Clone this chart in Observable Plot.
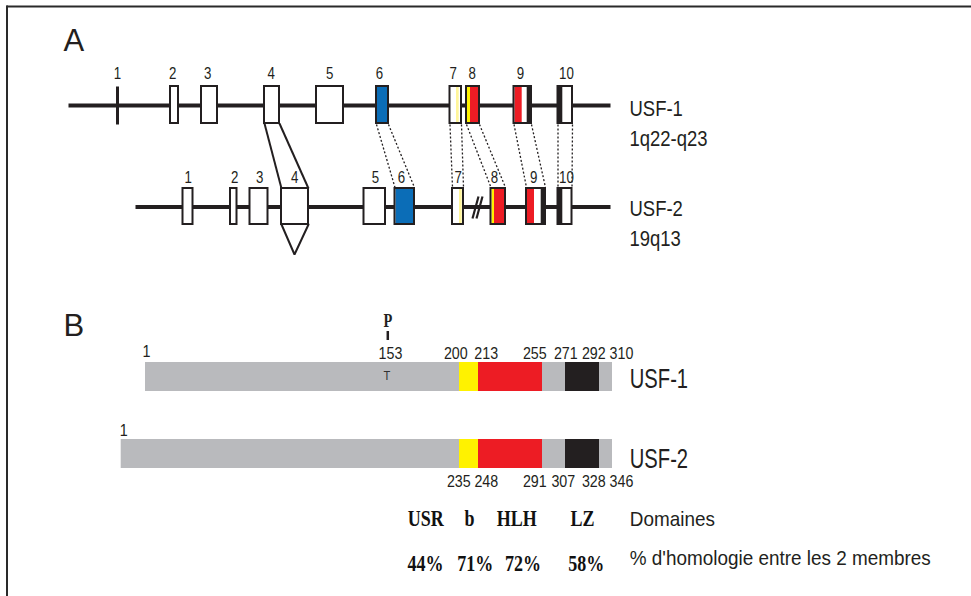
<!DOCTYPE html>
<html><head><meta charset="utf-8">
<script src="https://cdn.jsdelivr.net/npm/d3@7"></script>
<script src="https://cdn.jsdelivr.net/npm/@observablehq/plot@0.6"></script>
<style>
html,body{margin:0;padding:0;background:#fff;}
#chart svg{display:block;}
</style></head><body><div id="chart"></div>
<script>
// ===== Panel A : gene structure (schematic positions along each gene, diagram units) =====
const genes = ["USF-1", "USF-2"];
const geneLoci = ["1q22-q23", "19q13"];
const geneSpan = [[68, 610], [135, 610]];

const usf1Exon1 = [{exon: "1", pos: 117}];
const usf1Exons = [
  {exon: "2", start: 170, end: 178},
  {exon: "3", start: 201, end: 217},
  {exon: "4", start: 264, end: 279},
  {exon: "5", start: 316, end: 343},
  {exon: "6", start: 376, end: 388},
  {exon: "7", start: 449.5, end: 461},
  {exon: "8", start: 466, end: 479},
  {exon: "9", start: 513.5, end: 531},
  {exon: "10", start: 557.5, end: 572}
];
const usf2Exons = [
  {exon: "1", start: 182.5, end: 192.5},
  {exon: "2", start: 230, end: 236.5},
  {exon: "3", start: 249.5, end: 267.5},
  {exon: "4", start: 281, end: 308},
  {exon: "5", start: 363.5, end: 385},
  {exon: "6", start: 394.5, end: 414},
  {exon: "7", start: 452, end: 463},
  {exon: "8", start: 490.5, end: 505},
  {exon: "9", start: 526, end: 545},
  {exon: "10", start: 557.5, end: 571.5}
];
// coloured parts inside exons (category -> colour via the color scale)
const usf1ExonParts = [
  {part: "exon6", start: 377, end: 387},
  {part: "bPale", start: 456, end: 458.7},
  {part: "b", start: 467, end: 470},
  {part: "HLH", start: 470, end: 478},
  {part: "HLH", start: 514.5, end: 521.7},
  {part: "LZ", start: 526.7, end: 531},
  {part: "LZ", start: 557.5, end: 562.3}
];
const usf2ExonParts = [
  {part: "exon6", start: 395.5, end: 413},
  {part: "bPale", start: 459, end: 461.7},
  {part: "b", start: 491.5, end: 494},
  {part: "HLH", start: 494, end: 504},
  {part: "HLH", start: 527, end: 534},
  {part: "LZ", start: 540.7, end: 545},
  {part: "LZ", start: 557.5, end: 562.3}
];
const usf1ExonLabelPos = [117, 172.3, 207.3, 270.7, 329.3, 379, 452.7, 471.7, 520, 566];
const usf2ExonLabelPos = [187.7, 234.3, 259.3, 294.3, 375, 401, 457.7, 494, 533.3, 566];
const exonNumbers = ["1","2","3","4","5","6","7","8","9","10"];
const conservedExons = ["6","7","8","9","10"];
const breakPos = 474;

// ===== Panel B : protein domains =====
const proteins = ["USF-1", "USF-2"];
const proteinSpan = [[145, 612], [120.7, 612]];
const domainParts = [
  {part: "b", start: 459, end: 478},
  {part: "HLH", start: 478, end: 542},
  {part: "LZ", start: 565, end: 599}
];
const usf1Ticks = ["200", "213", "255", "271", "292", "310"];
const usf1TickPos = [455.3, 485.7, 534.3, 565.3, 593.3, 621];
const usf2Ticks = ["235", "248", "291", "307", "328", "346"];
const usf2TickPos = [458.3, 485.8, 534.3, 562.8, 593.3, 621];
const startLabelPos = [146, 123.3];
const phosphoSite = {label: "153", residue: "T", mark: "P", pos: 387.3};

const domainNames = ["USR", "b", "HLH", "LZ"];
const domainNamePos = [425.3, 469, 516.3, 582];
const homology = ["44%", "71%", "72%", "58%"];
const homologyPos = [425, 474.7, 522.5, 585.8];
const rowTitles = ["Domaines", "% d'homologie entre les 2 membres"];

// ===== layout constants =====
const INK = "#231f20";
const SANS = '"Liberation Sans", Arial, sans-serif';
const SERIF = '"Liberation Serif", "Times New Roman", serif';
const rowA = [{line: 105, top: 86, bot: 123, num: 78, lab: 115, loc: 145},
              {line: 206.5, top: 188, bot: 224, num: 182, lab: 215, loc: 245}];
const rowB = [{top: 362, bot: 391, lab: 387.3, tick: 358.5},
              {top: 439, bot: 468, lab: 467.3, tick: 486}];
// horizontal squeeze of glyphs for each text mark, in mark order (the original uses a condensed typeface)
const squeeze = [1, 0.78, 0.84, 0.84, 0.8, 0.85, 0.72, 0.75, 0.9];

// ---- derived tables ----
const geneLines = genes.map((g, i) => ({gene: g, x1: geneSpan[i][0], x2: geneSpan[i][1], y: rowA[i].line}));
const exonBoxes = [
  ...usf1Exons.map(e => ({...e, y1: rowA[0].top, y2: rowA[0].bot})),
  ...usf2Exons.map(e => ({...e, y1: rowA[1].top, y2: rowA[1].bot}))
];
const exonFills = [
  ...usf1ExonParts.map(e => ({...e, y1: rowA[0].top + 1, y2: rowA[0].bot - 1})),
  ...usf2ExonParts.map(e => ({...e, y1: rowA[1].top + 1, y2: rowA[1].bot - 1}))
];
const exonLabels = [
  ...exonNumbers.map((n, i) => ({text: n, x: usf1ExonLabelPos[i], y: rowA[0].num})),
  ...exonNumbers.map((n, i) => ({text: n, x: usf2ExonLabelPos[i], y: rowA[1].num}))
];
const geneLabels = genes.flatMap((g, i) => [
  {text: g, x: 629, y: rowA[i].lab},
  {text: geneLoci[i], x: 629, y: rowA[i].loc}
]);
const connectors = conservedExons.flatMap(n => {
  const a = usf1Exons.find(e => e.exon === n), b = usf2Exons.find(e => e.exon === n);
  return [{x1: a.start, x2: b.start}, {x1: a.end, x2: b.end}]
    .map(d => ({...d, y1: rowA[0].bot + 1, y2: rowA[1].top - 1}));
});
const e4a = usf1Exons.find(e => e.exon === "4"), e4b = usf2Exons.find(e => e.exon === "4");
const splice = [
  {x1: e4a.start, y1: rowA[0].bot, x2: e4b.start, y2: rowA[1].top},
  {x1: e4a.end, y1: rowA[0].bot, x2: e4b.end, y2: rowA[1].top}
];
const triangle = [
  {x: e4b.start, y: rowA[1].bot}, {x: (e4b.start + e4b.end) / 2 - 0.5, y: 254}, {x: e4b.end, y: rowA[1].bot}
];
const breakMarks = [0, 4].map(o => ({x1: breakPos - 2 + o, y1: 218, x2: breakPos + 4 + o, y2: 196}));
const frame = [{x1: 6, y1: 6, x2: 971, y2: 6}, {x1: 6.5, y1: 5, x2: 6.5, y2: 596}];

const proteinBars = proteins.map((p, i) => ({protein: p, start: proteinSpan[i][0], end: proteinSpan[i][1], y1: rowB[i].top, y2: rowB[i].bot}));
const proteinParts = proteins.flatMap((p, i) => domainParts.map(d => ({...d, protein: p, y1: rowB[i].top, y2: rowB[i].bot})));
const tickLabels = [
  ...usf1Ticks.map((t, i) => ({text: t, x: usf1TickPos[i], y: rowB[0].tick})),
  ...usf2Ticks.map((t, i) => ({text: t, x: usf2TickPos[i], y: rowB[1].tick})),
  {text: "1", x: startLabelPos[0], y: 356},
  {text: "1", x: startLabelPos[1], y: 435},
  {text: phosphoSite.label, x: phosphoSite.pos + 2.7, y: rowB[0].tick}
];
const proteinLabels = proteins.map((p, i) => ({text: p, x: 629.3, y: rowB[i].lab}));
const boldRow = [
  ...domainNames.map((t, i) => ({text: t, x: domainNamePos[i], y: 525})),
  ...homology.map((t, i) => ({text: t, x: homologyPos[i], y: 570.5}))
];
const titleRow = rowTitles.map((t, i) => ({text: t, x: 629.3, y: [525, 564][i]}));

const xy = {x1: "x1", y1: "y1", x2: "x2", y2: "y2"};

const chart = Plot.plot({
  width: 971, height: 596, margin: 0,
  x: {domain: [0, 971], range: [0, 971], axis: null},
  y: {domain: [0, 596], range: [0, 596], axis: null},
  color: {domain: ["exon6", "b", "bPale", "HLH", "LZ"], range: ["#0b6db7", "#fff200", "#fff59a", "#ed1c24", INK]},
  style: {background: "white"},
  marks: [
    Plot.link(frame, {...xy, stroke: "#2a2a2a", strokeWidth: 2}),
    // panel letters
    Plot.text([{t: "A", y: 50}, {t: "B", y: 335}], {x: 63, y: "y", text: "t", textAnchor: "start", lineAnchor: "bottom", fontSize: 31, fontFamily: SANS, fill: INK}),
    // gene backbones
    Plot.link(geneLines, {x1: "x1", x2: "x2", y1: "y", y2: "y", stroke: INK, strokeWidth: 4}),
    Plot.link(usf1Exon1, {x1: "pos", x2: "pos", y1: () => rowA[0].top, y2: () => rowA[0].bot + 1, stroke: INK, strokeWidth: 3}),
    // splicing of exon 4
    Plot.link(splice, {...xy, stroke: INK, strokeWidth: 2}),
    Plot.line(triangle, {x: "x", y: "y", stroke: INK, strokeWidth: 2, strokeLinejoin: "miter"}),
    // dotted homology connectors
    Plot.link(connectors, {...xy, stroke: INK, strokeWidth: 1.3, strokeDasharray: "2,2"}),
    // exons
    Plot.rect(exonBoxes, {x1: "start", x2: "end", y1: "y1", y2: "y2", fill: "white"}),
    Plot.rect(exonFills, {x1: "start", x2: "end", y1: "y1", y2: "y2", fill: "part"}),
    Plot.rect(exonBoxes, {x1: "start", x2: "end", y1: "y1", y2: "y2", fill: "none", stroke: INK, strokeWidth: 2}),
    // break mark
    Plot.link(breakMarks, {...xy, stroke: INK, strokeWidth: 2.2}),
    Plot.text(exonLabels, {x: "x", y: "y", text: "text", lineAnchor: "bottom", fontSize: 17, fontFamily: SANS, fill: INK}),
    Plot.text(geneLabels, {x: "x", y: "y", text: "text", textAnchor: "start", lineAnchor: "bottom", fontSize: 22, fontFamily: SANS, fill: INK}),
    // panel B proteins
    Plot.rect(proteinBars, {x1: "start", x2: "end", y1: "y1", y2: "y2", fill: "#b9babd"}),
    Plot.rect(proteinParts, {x1: "start", x2: "end", y1: "y1", y2: "y2", fill: "part"}),
    Plot.text(tickLabels, {x: "x", y: "y", text: "text", lineAnchor: "bottom", fontSize: 17, fontFamily: SANS, fill: INK}),
    Plot.text([phosphoSite], {x: "pos", y: () => 326, text: "mark", lineAnchor: "bottom", fontSize: 18, fontWeight: "bold", fontFamily: SERIF, fill: INK}),
    Plot.link([phosphoSite], {x1: "pos", x2: "pos", y1: () => 330.5, y2: () => 339.5, stroke: INK, strokeWidth: 2.5}),
    Plot.text([phosphoSite], {x: d => d.pos - 1, y: () => 379, text: "residue", lineAnchor: "bottom", fontSize: 13, fontFamily: SANS, fill: "#333"}),
    Plot.text(proteinLabels, {x: "x", y: "y", text: "text", textAnchor: "start", lineAnchor: "bottom", fontSize: 28, fontFamily: SANS, fill: INK}),
    Plot.text(boldRow, {x: "x", y: "y", text: "text", lineAnchor: "bottom", fontSize: 24, fontWeight: "bold", fontFamily: SERIF, fill: "#111"}),
    Plot.text(titleRow, {x: "x", y: "y", text: "text", textAnchor: "start", lineAnchor: "bottom", fontSize: 21, fontFamily: SANS, fill: INK})
  ]
});
document.getElementById("chart").appendChild(chart);
// emulate the condensed typeface of the original
chart.querySelectorAll('g[aria-label="text"]').forEach((g, i) => {
  const k = squeeze[i] ?? 1;
  if (k === 1) return;
  g.querySelectorAll("text").forEach(t => {
    const w = t.getComputedTextLength();
    t.setAttribute("textLength", (w * k).toFixed(1));
    t.setAttribute("lengthAdjust", "spacingAndGlyphs");
  });
});
</script>
</body></html>
